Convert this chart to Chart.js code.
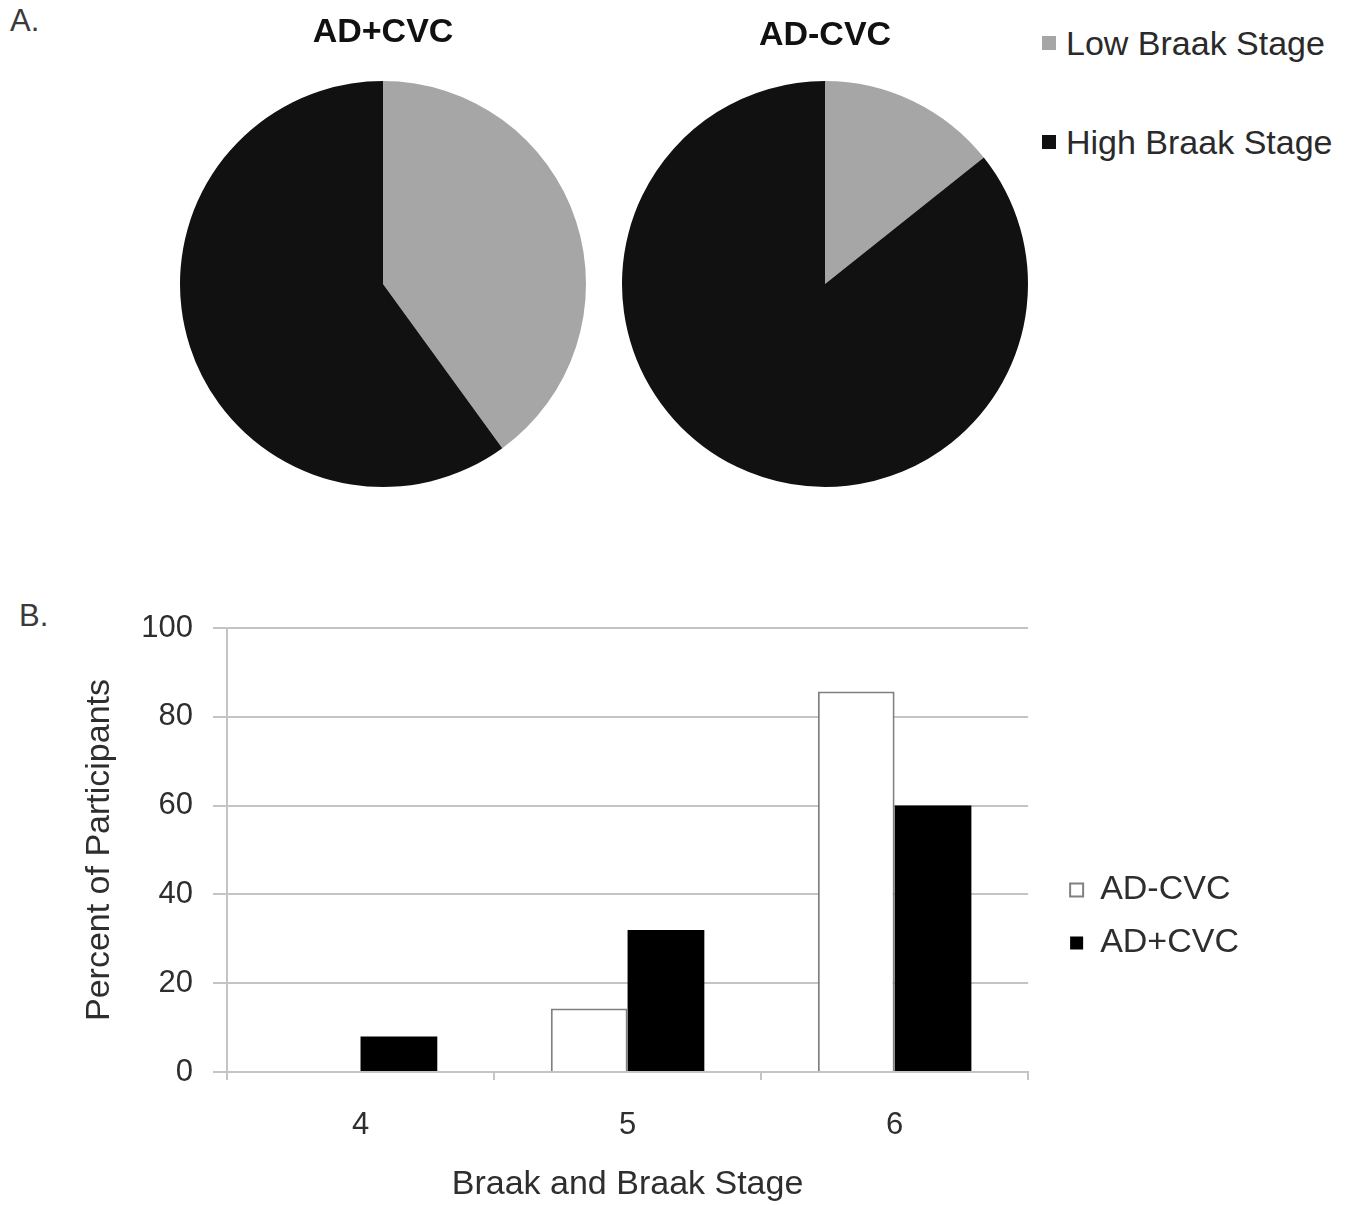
<!DOCTYPE html>
<html>
<head>
<meta charset="utf-8">
<script src="https://cdn.jsdelivr.net/npm/chart.js@4.4.1/dist/chart.umd.min.js"></script>
<style>
    body { margin: 0; background: #fff; width: 1360px; height: 1205px; position: relative; overflow: hidden;
           font-family: "Liberation Sans", Arial, sans-serif; color: #333; }
    canvas { position: absolute; }
    .panel { position: absolute; font-size: 31px; color: #3a3a3a; }
    .pie-legend { position: absolute; left: 1042px; font-size: 34px; line-height: 38px; color: #2a2a2a; white-space: nowrap; }
    .pie-legend span { display: inline-block; width: 14px; height: 14px; margin-right: 10px; vertical-align: 5px; }
</style>
</head>
<body>
<div class="panel" style="left:10px; top:3px;">A.</div>
<div class="panel" style="left:19px; top:598px;">B.</div>

<canvas id="pieLeft" width="426" height="500" style="left:170px; top:0;"></canvas>
<canvas id="pieRight" width="430" height="500" style="left:604px; top:0;"></canvas>

<div class="pie-legend" style="top:24px;"><span id="lowBox"></span>Low Braak Stage</div>
<div class="pie-legend" style="top:123px;"><span id="highBox"></span>High Braak Stage</div>

<canvas id="stages" width="1360" height="645" style="left:0; top:560px;"></canvas>

<script>
// --- data ---
const pieLabels = ['Low Braak Stage', 'High Braak Stage'];
const pieColors = ['#a6a6a6', '#111111'];
const adPlusCvcPie = [40, 60];
const adMinusCvcPie = [14.3, 85.7];

const stageLabels = ['4', '5', '6'];
const adMinusCvc = [0, 14.3, 85.7];
const adPlusCvc = [8, 32, 60];

const FONT = '"Liberation Sans", Arial, sans-serif';
const TEXT = '#2e2e2e';
const GRID = '#c4c4c4';

Chart.defaults.font.family = FONT;
Chart.defaults.color = TEXT;
Chart.defaults.animation = false;

document.getElementById('lowBox').style.background = pieColors[0];
document.getElementById('highBox').style.background = pieColors[1];

function makePie(id, title, values, titlePad, padding) {
    return new Chart(document.getElementById(id), {
        type: 'pie',
        data: {
            labels: pieLabels,
            datasets: [{
                data: values,
                backgroundColor: pieColors,
                borderWidth: 0
            }]
        },
        options: {
            responsive: false,
            layout: { padding: padding },
            plugins: {
                legend: { display: false },
                tooltip: { enabled: false },
                title: {
                    display: true,
                    text: title,
                    color: '#111',
                    font: { size: 34, weight: 'bold' },
                    padding: titlePad
                }
            }
        }
    });
}

// title line height is 34 * 1.2 = 40.8, paddings put the pie area at y 81..487
makePie('pieLeft', 'AD+CVC', adPlusCvcPie, { top: 12, bottom: 28.2 }, { left: 10, right: 10, bottom: 13 });
makePie('pieRight', 'AD-CVC', adMinusCvcPie, { top: 15, bottom: 25.2 }, { left: 12, right: 0, bottom: 13 });

// --- bar chart (panel B) ---
new Chart(document.getElementById('stages'), {
    type: 'bar',
    data: {
        labels: stageLabels,
        datasets: [
            {
                label: 'AD-CVC',
                data: adMinusCvc,
                backgroundColor: '#ffffff',
                borderColor: '#808080',
                borderWidth: 2
            },
            {
                label: 'AD+CVC',
                data: adPlusCvc,
                backgroundColor: '#000000',
                borderColor: '#000000',
                borderWidth: 0
            }
        ]
    },
    options: {
        responsive: false,
        layout: { padding: { top: 68, left: 0, right: 111, bottom: 0 } },
        datasets: { bar: { categoryPercentage: 0.575, barPercentage: 1 } },
        scales: {
            x: {
                offset: true,
                grid: { offset: true, drawOnChartArea: false, drawTicks: true, tickLength: 8, color: GRID, lineWidth: 2 },
                border: { color: GRID, width: 2 },
                ticks: { font: { size: 31 }, color: TEXT, padding: 27 },
                title: { display: true, text: 'Braak and Braak Stage', font: { size: 34 }, color: TEXT, padding: { top: 0, bottom: 0 } },
                afterFit: s => { s.height = 133; }
            },
            y: {
                min: 0,
                max: 100,
                ticks: { stepSize: 20, font: { size: 31 }, color: TEXT, padding: 20 },
                grid: { color: GRID, lineWidth: 2, tickLength: 14 },
                border: { color: GRID, width: 2 },
                title: { display: true, text: 'Percent of Participants', font: { size: 34 }, color: TEXT, padding: { top: 79, bottom: 0 } },
                afterFit: s => { s.width = 227; }
            },
            spacer: {
                position: 'right',
                display: true,
                grid: { display: false },
                border: { display: false },
                ticks: { display: false },
                afterFit: s => { s.width = 23; }
            }
        },
        plugins: {
            tooltip: { enabled: false },
            legend: {
                position: 'right',
                align: 'center',
                labels: {
                    font: { size: 34 },
                    color: TEXT,
                    boxWidth: 13,
                    boxHeight: 13,
                    padding: 19
                }
            }
        }
    }
});
</script>
</body>
</html>
